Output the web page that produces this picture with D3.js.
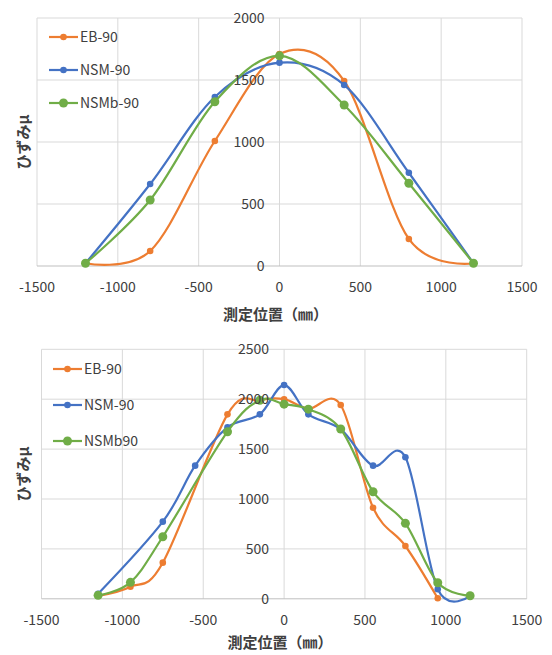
<!DOCTYPE html>
<html>
<head>
<meta charset="utf-8">
<script src="https://cdn.jsdelivr.net/npm/d3@7"></script>
<style>
  body { margin: 0; background: #fff; }
  text { font-family: "Noto Sans CJK JP", "Noto Sans", sans-serif; }
</style>
</head>
<body>
<div id="chart"></div>
<script>
// chart data
var seriesNames = ["EB-90", "NSM-90", "NSMb-90"];
var seriesNamesBottom = ["EB-90", "NSM-90", "NSMb90"];
var colors = ["#ED7D31", "#4472C4", "#70AD47"];

var xTicks = [-1500, -1000, -500, 0, 500, 1000, 1500];
var yTicksTop = [0, 500, 1000, 1500, 2000];
var yTicksBottom = [0, 500, 1000, 1500, 2000, 2500];

// top chart: all series share positions
var topX = [-1200, -800, -400, 0, 400, 800, 1200];
var topEB = [22, 121, 1008, 1710, 1492, 218, 22];
var topNSM = [22, 661, 1363, 1640, 1460, 752, 22];
var topNSMb = [22, 532, 1325, 1695, 1298, 667, 22];

// bottom chart
var botEBx = [-1150, -950, -750, -350, -150, 0, 150, 350, 550, 750, 950];
var botEBy = [30, 121, 362, 1848, 1988, 2000, 1905, 1942, 913, 529, 5];
var botNSMx = [-1150, -750, -550, -350, -150, 0, 150, 350, 550, 750, 950, 1150];
var botNSMy = [50, 773, 1334, 1718, 1848, 2142, 1848, 1700, 1334, 1418, 95, 30];
var botNSMbx = [-1150, -950, -750, -350, -150, 0, 150, 350, 550, 750, 950, 1150];
var botNSMby = [35, 165, 622, 1674, 1990, 1950, 1900, 1701, 1073, 756, 161, 31];

var xTitle = "測定位置（㎜）";
var yTitle = "ひずみμ";

var svg = d3.select("#chart").append("svg")
  .attr("width", 552)
  .attr("height", 655);

function zip(xs, ys) {
  return xs.map(function(x, i) { return {x: x, y: ys[i]}; });
}

function drawChart(cfg) {
  var g = svg.append("g");

  var x = d3.scaleLinear().domain([-1500, 1500]).range([cfg.left, cfg.right]);
  var y = d3.scaleLinear().domain([0, cfg.yMax]).range([cfg.bottom, cfg.top]);

  // gridlines
  g.selectAll(".vgrid").data(xTicks).enter().append("line")
    .attr("x1", d => x(d)).attr("x2", d => x(d))
    .attr("y1", cfg.top).attr("y2", cfg.bottom)
    .attr("stroke", "#d9d9d9").attr("stroke-width", 1);
  g.selectAll(".hgrid").data(cfg.yTicks).enter().append("line")
    .attr("x1", cfg.left).attr("x2", cfg.right)
    .attr("y1", d => y(d)).attr("y2", d => y(d))
    .attr("stroke", d => d === 0 ? "#bfbfbf" : "#d9d9d9").attr("stroke-width", 1);

  // series
  var line = d3.line()
    .x(d => x(d.x)).y(d => y(d.y))
    .curve(d3.curveCardinal.tension(0));

  cfg.series.forEach(function(s, i) {
    g.append("path")
      .datum(s)
      .attr("fill", "none")
      .attr("stroke", colors[i])
      .attr("stroke-width", 2.2)
      .attr("d", line);
    g.selectAll(null).data(s).enter().append("circle")
      .attr("cx", d => x(d.x))
      .attr("cy", d => y(d.y))
      .attr("r", i === 2 ? 4.5 : 3.3)
      .attr("fill", colors[i]);
  });

  // y tick labels next to the zero line
  g.selectAll(".ylab").data(cfg.yTicks).enter().append("text")
    .attr("x", x(0) - 15)
    .attr("y", d => y(d))
    .attr("dy", "0.35em")
    .attr("text-anchor", "end")
    .style("font-size", "14px")
    .style("fill", "#404040")
    .text(d => d);

  // x tick labels
  g.selectAll(".xlab").data(xTicks).enter().append("text")
    .attr("x", d => x(d))
    .attr("y", cfg.bottom + 21)
    .attr("dy", "0.35em")
    .attr("text-anchor", "middle")
    .style("font-size", "14px")
    .style("fill", "#404040")
    .text(d => d);

  // axis titles
  g.append("text")
    .attr("x", (cfg.left + cfg.right) / 2 - 4)
    .attr("y", cfg.bottom + cfg.titleGap)
    .attr("dy", "0.35em")
    .attr("text-anchor", "middle")
    .style("font-size", "15px")
    .style("font-weight", "bold")
    .style("fill", "#404040")
    .text(xTitle);

  g.append("text")
    .attr("transform", `translate(24, ${(cfg.top + cfg.bottom) / 2}) rotate(-90)`)
    .attr("dy", "0.35em")
    .attr("text-anchor", "middle")
    .style("font-size", "15px")
    .style("font-weight", "bold")
    .style("fill", "#404040")
    .text(yTitle);

  // legend
  cfg.names.forEach(function(name, i) {
    var ly = cfg.legendY[i];
    g.append("line")
      .attr("x1", cfg.legendX).attr("x2", cfg.legendX + 29)
      .attr("y1", ly).attr("y2", ly)
      .attr("stroke", colors[i]).attr("stroke-width", 2.2);
    g.append("circle")
      .attr("cx", cfg.legendX + 14.5).attr("cy", ly)
      .attr("r", i === 2 ? 4.5 : 3.3)
      .attr("fill", colors[i]);
    g.append("text")
      .attr("x", cfg.legendX + 31)
      .attr("y", ly)
      .attr("dy", "0.35em")
      .style("font-size", "14px")
      .style("fill", "#404040")
      .text(name);
  });
}

drawChart({
  left: 37, right: 522, top: 18, bottom: 266, yMax: 2000,
  yTicks: yTicksTop,
  series: [zip(topX, topEB), zip(topX, topNSM), zip(topX, topNSMb)],
  names: seriesNames,
  legendX: 49, legendY: [37, 70, 103],
  titleGap: 49
});

drawChart({
  left: 41.5, right: 526.7, top: 349.3, bottom: 598.8, yMax: 2500,
  yTicks: yTicksBottom,
  series: [zip(botEBx, botEBy), zip(botNSMx, botNSMy), zip(botNSMbx, botNSMby)],
  names: seriesNamesBottom,
  legendX: 53, legendY: [369, 405, 441],
  titleGap: 44
});
</script>
</body>
</html>
